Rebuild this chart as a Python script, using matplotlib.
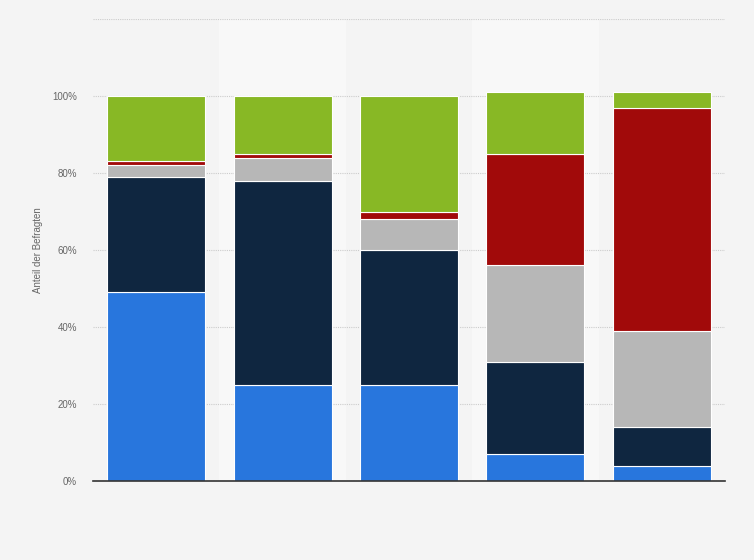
import numpy as np
import matplotlib.pyplot as plt

# Anteil der Befragten je Kategorie (gestapelt, in %)
groups = ['1', '2', '3', '4', '5']
blue = [49, 25, 25, 7, 4]
navy = [30, 53, 35, 24, 10]
gray = [3, 6, 8, 25, 25]
red = [1, 1, 2, 29, 58]
green = [17, 15, 30, 16, 4]

series = [blue, navy, gray, red, green]
colors = ['#2876dd', '#0f2640', '#b7b7b7', '#a10a0a', '#88b825']

plt.rcParams['font.family'] = ['Liberation Sans', 'DejaVu Sans']

fig = plt.figure(figsize=(7.54, 5.6), dpi=100, facecolor='#f4f4f4')
ax = fig.add_axes([0.1233, 0.141, 0.8382, 0.825])
ax.set_facecolor('#f4f4f4')

x = np.arange(len(groups))

# lighter background bands behind every second column
for i in x[1::2]:
    ax.axvspan(i - 0.5, i + 0.5, color='#f8f8f8', zorder=0, lw=0)

bottom = np.zeros(len(groups))
for vals, col in zip(series, colors):
    ax.bar(x, vals, bottom=bottom, width=0.775, color=col,
           edgecolor='white', linewidth=0.8, zorder=3)
    bottom += np.array(vals)

ax.set_xlim(-0.5, len(groups) - 0.5)
ax.set_ylim(0, 120)
ax.set_yticks([0, 20, 40, 60, 80, 100])
ax.set_yticklabels(['0%', '20%', '40%', '60%', '80%', '100%'])
ax.set_xticks([])
ax.grid(axis='y', color='#cccccc', linestyle=(0, (1, 1)), linewidth=0.8, zorder=1)
ax.axhline(120, color='#cccccc', linestyle=(0, (1, 1)), linewidth=0.8, zorder=1)

for s in ['top', 'right', 'left']:
    ax.spines[s].set_visible(False)
ax.spines['bottom'].set_color('#333333')
ax.spines['bottom'].set_linewidth(1.2)
ax.spines['bottom'].set_zorder(5)

ax.tick_params(axis='y', length=0, labelsize=7, labelcolor='#666666', pad=11.5)
ax.set_ylabel('Anteil der Befragten', fontsize=7, color='#666666', labelpad=6.5)

plt.savefig('out.png', dpi=100, facecolor=fig.get_facecolor())
